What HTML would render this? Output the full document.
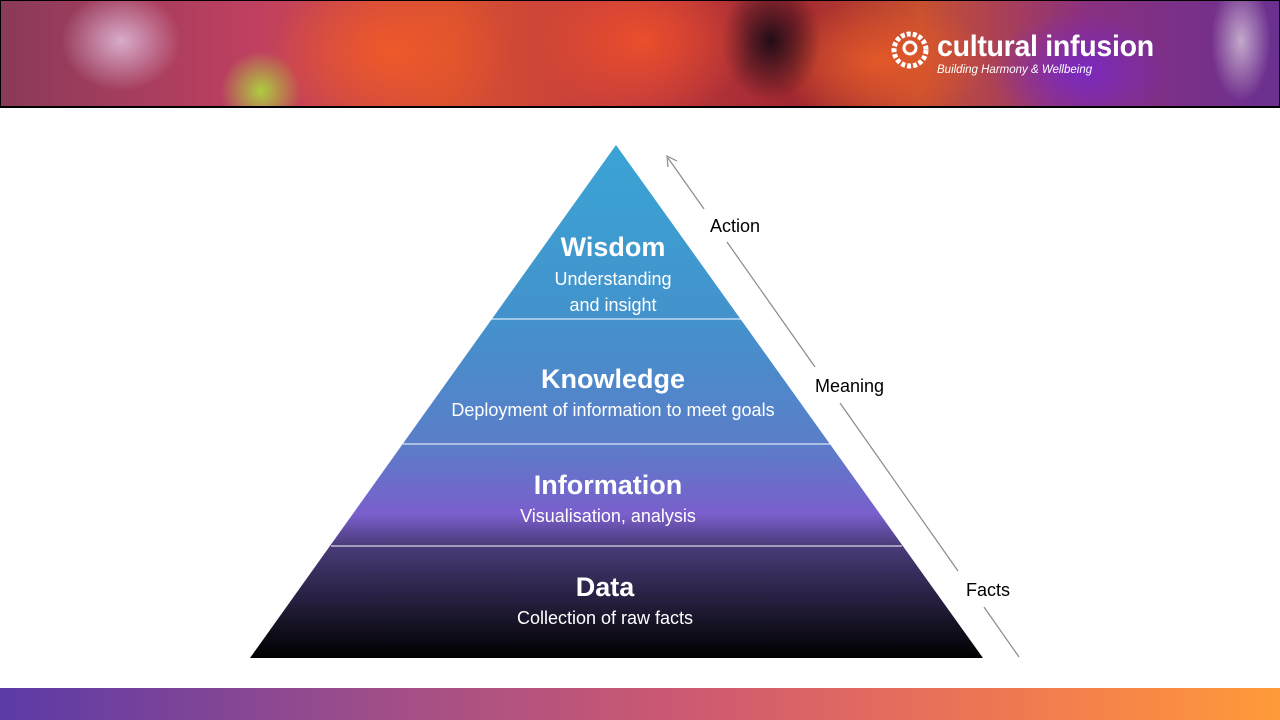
<!DOCTYPE html>
<html><head><meta charset="utf-8"><style>
body{margin:0;width:1280px;height:720px;overflow:hidden;background:#fff;font-family:"Liberation Sans",sans-serif;position:relative}
#hdr{position:absolute;left:0;top:0;width:1278px;height:105px;border:1px solid #000;border-bottom:2px solid #000;
background:
radial-gradient(ellipse 60px 50px at 120px 40px,rgba(230,200,230,.8),transparent),
radial-gradient(ellipse 40px 40px at 260px 90px,rgba(170,220,60,.9),transparent),
radial-gradient(ellipse 120px 80px at 390px 50px,rgba(240,90,40,.95),transparent),
radial-gradient(ellipse 110px 80px at 640px 40px,rgba(240,80,40,.9),transparent),
radial-gradient(ellipse 50px 60px at 770px 40px,rgba(20,10,20,.9),transparent),
radial-gradient(ellipse 110px 60px at 880px 60px,rgba(230,90,40,.9),transparent),
radial-gradient(ellipse 90px 60px at 1080px 70px,rgba(120,40,200,.9),transparent),
radial-gradient(ellipse 30px 60px at 1240px 40px,rgba(230,220,230,.7),transparent),
linear-gradient(90deg,#8a3a5a,#c04060 20%,#d85030 35%,#c03a40 50%,#a02830 62%,#c85030 72%,#8a3080 85%,#6a3090);}
.logo{position:absolute;left:937px;top:30px;color:#fff;font-size:30px;letter-spacing:-0.3px;font-weight:bold;transform:scaleX(0.95);transform-origin:left}
.tag{position:absolute;left:937px;top:64px;color:#fff;font-size:11.5px;font-style:italic}
#bar{position:absolute;left:0;top:688px;width:1280px;height:32px;background:linear-gradient(90deg,#5b3aa8,#a04e88 30%,#d05a70 55%,#f07a50 80%,#ff9a3a)}
</style></head><body>
<div id="hdr"></div>
<svg style="position:absolute;left:891px;top:31px" width="38" height="38" viewBox="0 0 38 38"><circle cx="19" cy="19" r="16" fill="none" stroke="#fff" stroke-width="5" stroke-dasharray="4 2"/><circle cx="19" cy="17" r="6" fill="none" stroke="#fff" stroke-width="3"/></svg>
<div class="logo">cultural infusion</div>
<div class="tag">Building Harmony &amp; Wellbeing</div>
<svg style="position:absolute;left:0;top:0" width="1280" height="720">
<defs><linearGradient id="g" x1="0" y1="145" x2="0" y2="658" gradientUnits="userSpaceOnUse">
<stop offset="0" stop-color="#3aa4d4"/><stop offset="0.34" stop-color="#4392cc"/><stop offset="0.58" stop-color="#5a7ec8"/>
<stop offset="0.72" stop-color="#7a5fcc"/><stop offset="0.78" stop-color="#4a3c7a"/><stop offset="1" stop-color="#000"/></linearGradient></defs>
<polygon points="616,145 983,658 250,658" fill="url(#g)"/>
<g stroke="#fff" stroke-width="1"><line x1="491" y1="319" x2="741" y2="319"/><line x1="403" y1="444" x2="830" y2="444"/><line x1="331" y1="546" x2="902" y2="546"/></g>
<g stroke="#8a8a8a" stroke-width="1.2" fill="none">
<line x1="668" y1="158" x2="704" y2="209"/><line x1="727" y1="242" x2="815" y2="367"/><line x1="840" y1="403" x2="958" y2="571"/><line x1="984" y1="607" x2="1019" y2="657"/>
<polyline points="668,167 667,156 677,161"/></g>
<g fill="#000" font-size="18"><text x="710" y="232">Action</text><text x="815" y="392">Meaning</text><text x="966" y="596">Facts</text></g>
<g fill="#fff" text-anchor="middle">
<text x="613" y="256" font-size="27" font-weight="bold">Wisdom</text>
<text x="613" y="285" font-size="18">Understanding</text><text x="613" y="311" font-size="18">and insight</text>
<text x="613" y="388" font-size="27" font-weight="bold">Knowledge</text>
<text x="613" y="416" font-size="18">Deployment of information to meet goals</text>
<text x="608" y="494" font-size="27" font-weight="bold">Information</text>
<text x="608" y="522" font-size="18">Visualisation, analysis</text>
<text x="605" y="596" font-size="27" font-weight="bold">Data</text>
<text x="605" y="624" font-size="18">Collection of raw facts</text>
</g></svg>
<div id="bar"></div>
</body></html>
